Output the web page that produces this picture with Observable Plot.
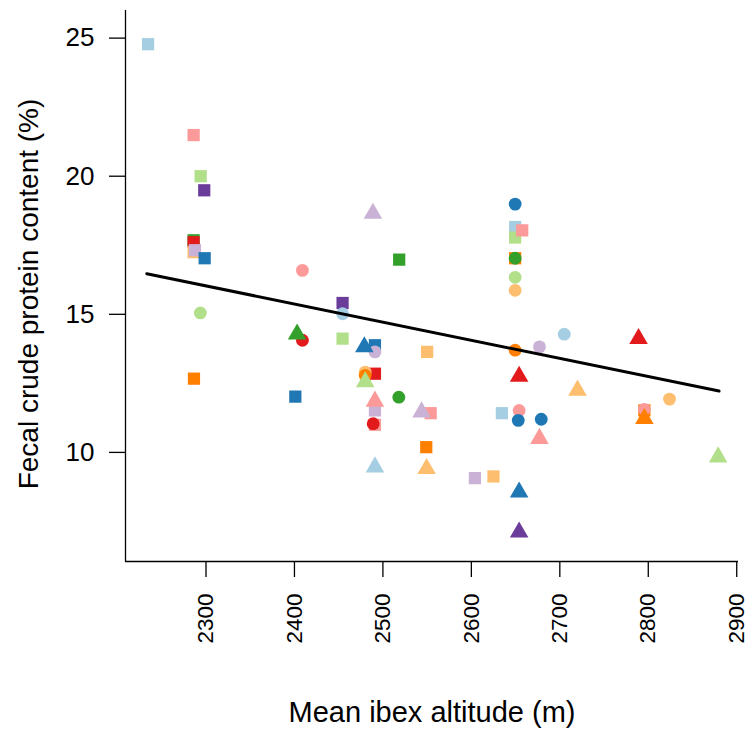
<!DOCTYPE html>
<html>
<head>
<meta charset="utf-8">
<script src="https://cdn.jsdelivr.net/npm/d3@7"></script>
<script src="https://cdn.jsdelivr.net/npm/@observablehq/plot@0.6"></script>
<style>
  html, body { margin: 0; padding: 0; background: #fff; }
  #chart svg { display: block; }
</style>
</head>
<body>
<div id="chart"></div>
<script>
// ---- data ----
const groups = [1, 2, 3, 4, 5, 6, 7, 8, 9, 10];
const groupColors = ["#a6cee3", "#1f78b4", "#b2df8a", "#33a02c", "#fb9a99",
                     "#e31a1c", "#fdbf6f", "#ff7f00", "#cab2d6", "#6a3d9a"];

// squares
const sqAltitude = [2234.5, 2286, 2294, 2298, 2286, 2286, 2286, 2287.5, 2298.5, 2286.4,
                    2401, 2518.4, 2649.5, 2649.5, 2657.5, 2649.5, 2454.4, 2454.4, 2491, 2550,
                    2491, 2491, 2554, 2491, 2549, 2604, 2625, 2634.5, 2795.6];
const sqProtein  = [24.78, 21.49, 20.0, 19.49, 17.68, 17.61, 17.25, 17.32, 17.03, 12.67,
                    12.02, 16.98, 18.16, 17.78, 18.04, 17.03, 15.41, 14.12, 13.88, 13.64,
                    12.85, 11.52, 11.42, 11.0, 10.19, 9.07, 9.13, 11.42, 11.52];
const sqGroup    = [1, 5, 3, 10, 4, 6, 7, 9, 2, 8,
                    2, 4, 1, 3, 5, 8, 10, 3, 2, 7,
                    6, 9, 5, 5, 8, 9, 7, 1, 8];

// circles
const ciAltitude = [2293.6, 2409, 2409, 2649.5, 2649.5, 2649.5, 2649.5, 2454.4, 2491, 2480,
                    2480, 2518, 2489, 2649.5, 2654, 2653, 2705, 2677, 2824, 2795.6, 2679];
const ciProtein  = [15.05, 16.59, 14.06, 18.99, 17.03, 16.34, 15.87, 15.02, 13.64, 12.91,
                    12.79, 12.0, 11.04, 13.70, 11.52, 11.16, 14.28, 13.82, 11.93, 11.56, 11.20];
const ciGroup    = [3, 5, 6, 2, 4, 3, 7, 1, 9, 7,
                    8, 4, 6, 8, 5, 2, 1, 9, 7, 5, 2];

// triangles
const trAltitude = [2403, 2488.7, 2479, 2480, 2491, 2543.7, 2491, 2549.4, 2654, 2654,
                    2654, 2789, 2720, 2795.6, 2677, 2879];
const trProtein  = [14.28, 18.65, 13.82, 12.55, 11.85, 11.46, 9.47, 9.41, 12.75, 8.56,
                    7.11, 14.12, 12.25, 11.22, 10.50, 9.83];
const trGroup    = [4, 9, 2, 3, 5, 9, 1, 7, 6, 2,
                    10, 6, 7, 8, 5, 3];

// fitted line
const fitAltitude = [2233, 2880];
const fitProtein  = [16.47, 12.22];

// axis ticks
const xTicks = [2300, 2400, 2500, 2600, 2700, 2800, 2900];
const yTicks = [10, 15, 20, 25];
const xDomain = [2209, 2902];
const yDomain = [6.05, 26.0];

const xLabel = "Mean ibex altitude (m)";
const yLabel = "Fecal crude protein content (%)";

// ---- build tables ----
const toRows = (xs, ys, gs) => xs.map((x, i) => ({altitude: x, protein: ys[i], group: gs[i]}));
const squares = toRows(sqAltitude, sqProtein, sqGroup);
const circles = toRows(ciAltitude, ciProtein, ciGroup);
const triangles = toRows(trAltitude, trProtein, trGroup);
const fit = fitAltitude.map((x, i) => ({altitude: x, protein: fitProtein[i]}));

const font = "'Liberation Sans', Arial, Helvetica, sans-serif";

const chart = Plot.plot({
  width: 752,
  height: 735,
  marginLeft: 125,
  marginRight: 14,
  marginTop: 10,
  marginBottom: 174,
  style: {fontFamily: font, background: "#fff", color: "#000"},
  x: {domain: xDomain},
  y: {domain: yDomain},
  color: {domain: groups, range: groupColors},
  marks: [
    Plot.ruleX([xDomain[0]], {stroke: "#000", strokeWidth: 1.3}),
    Plot.ruleY([yDomain[0]], {stroke: "#000", strokeWidth: 1.3}),
    Plot.axisY({ticks: yTicks, tickSize: 16, tickPadding: 15, fontSize: 26, label: null, strokeWidth: 1.3}),
    Plot.axisX({ticks: xTicks, tickFormat: d => String(d), tickSize: 16, tickPadding: 16, fontSize: 22.5, tickRotate: -90, label: null, strokeWidth: 1.3}),
    Plot.dot(squares, {x: "altitude", y: "protein", fill: "group", symbol: "square", r: 6.9, stroke: null}),
    Plot.dot(circles, {x: "altitude", y: "protein", fill: "group", symbol: "circle", r: 6.4, stroke: null}),
    Plot.dot(triangles, {x: "altitude", y: "protein", fill: "group", symbol: "triangle", r: 6.9, stroke: null}),
    Plot.line(fit, {x: "altitude", y: "protein", stroke: "#000", strokeWidth: 3}),
    Plot.text([xLabel], {frameAnchor: "bottom", dy: 160, fontSize: 29, fill: "#000", textAnchor: "middle"}),
    Plot.text([yLabel], {frameAnchor: "left", dx: -96, dy: 8, rotate: -90, fontSize: 28, fill: "#000", textAnchor: "middle"})
  ]
});

document.getElementById("chart").appendChild(chart);
</script>
</body>
</html>
